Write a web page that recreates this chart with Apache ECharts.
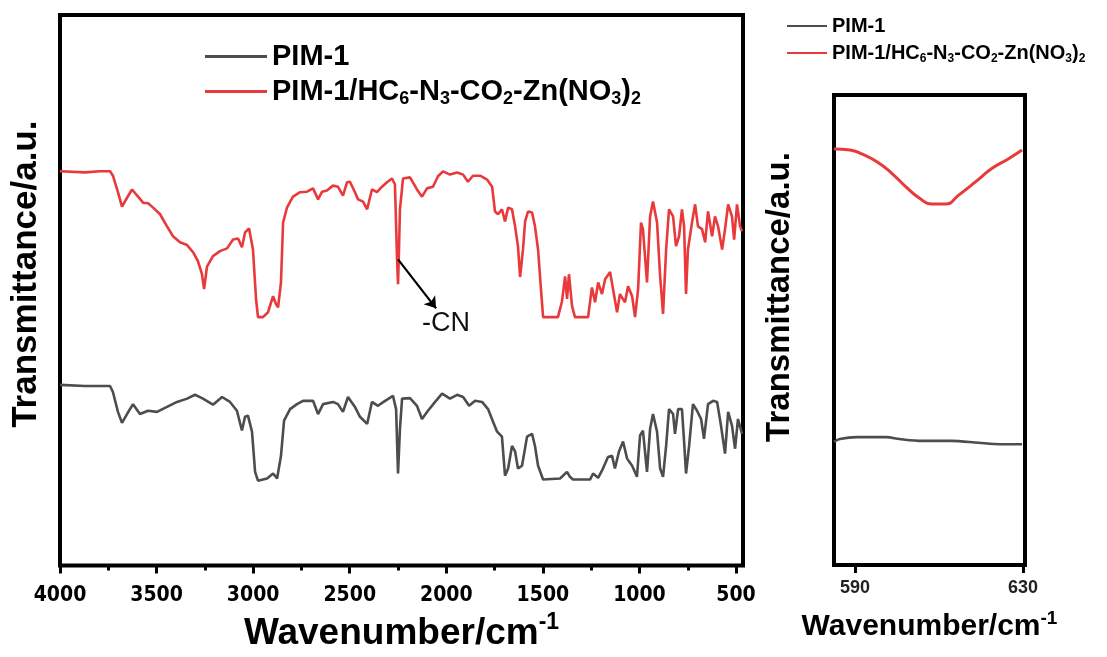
<!DOCTYPE html>
<html>
<head>
<meta charset="utf-8">
<script src="https://cdn.jsdelivr.net/npm/echarts@6/dist/echarts.min.js"></script>
<style>
  html, body { margin: 0; padding: 0; background: #fff; }
  #chart { width: 1107px; height: 657px; }
</style>
</head>
<body>
<div id="chart"></div>
<script>
// FTIR spectra: [wavenumber (cm-1), transmittance (a.u.)]
const pim1Spectrum = [
  [4000,32.8],[3871,32.6],[3741,32.6],[3726,31.5],[3700,27.9],[3679,25.9],[3653,27.5],[3622,29.3],
  [3586,27.5],[3544,28.1],[3498,27.9],[3446,28.8],[3394,29.7],[3342,30.3],[3301,31.0],[3260,30.3],
  [3208,29.2],[3161,30.6],[3120,29.7],[3084,28.1],[3058,24.5],[3042,27.0],[3027,27.2],[3006,24.3],
  [2990,17.0],[2975,15.4],[2928,15.8],[2897,16.7],[2876,15.8],[2856,19.9],[2840,26.3],[2809,28.4],
  [2773,29.3],[2742,29.9],[2690,29.9],[2664,27.5],[2638,29.3],[2587,29.7],[2561,29.3],[2535,27.9],
  [2509,30.6],[2473,28.8],[2447,27.0],[2410,25.7],[2385,29.7],[2354,29.0],[2317,29.9],[2276,30.8],
  [2260,28.4],[2250,16.7],[2240,24.8],[2229,30.3],[2188,30.4],[2152,29.0],[2126,26.6],[2095,28.1],
  [2058,29.7],[2022,31.2],[1981,30.3],[1944,31.0],[1913,30.6],[1882,29.0],[1851,29.9],[1815,29.7],
  [1784,28.4],[1758,26.1],[1737,24.3],[1712,23.4],[1696,16.3],[1680,17.6],[1660,21.7],[1644,20.7],
  [1629,17.6],[1608,18.1],[1582,23.4],[1556,23.9],[1541,21.7],[1525,18.1],[1499,15.6],[1411,15.8],
  [1375,17.0],[1360,16.1],[1344,15.6],[1256,15.6],[1240,16.7],[1214,15.9],[1189,17.6],[1163,19.7],
  [1142,19.9],[1127,17.6],[1106,20.7],[1085,22.5],[1064,19.4],[1038,18.1],[1013,16.1],[997,23.6],
  [982,24.5],[961,17.0],[945,24.8],[930,27.5],[909,24.3],[893,17.6],[878,16.1],[862,21.7],
  [847,28.4],[826,27.5],[816,23.9],[800,28.4],[780,28.4],[769,22.5],[759,16.7],[743,21.7],
  [723,29.3],[702,28.1],[681,26.6],[666,23.0],[645,29.3],[619,29.9],[598,29.7],[578,25.4],
  [557,20.3],[541,27.9],[521,25.4],[505,21.2],[490,26.6],[469,23.9]
];

const compositeSpectrum = [
  [4000,71.6],[3871,71.4],[3793,71.6],[3741,71.6],[3726,70.8],[3700,67.8],[3679,65.2],[3653,66.8],
  [3627,68.3],[3596,67.0],[3570,65.9],[3544,65.8],[3518,65.0],[3482,63.8],[3446,61.6],[3415,59.8],
  [3379,58.7],[3342,58.2],[3311,56.9],[3286,55.3],[3265,52.9],[3254,50.2],[3239,54.3],[3208,56.2],
  [3172,57.1],[3135,57.6],[3104,59.2],[3078,59.4],[3058,57.8],[3042,60.5],[3021,61.2],[3001,57.4],
  [2985,48.4],[2975,45.1],[2949,45.1],[2923,46.0],[2897,48.9],[2882,47.5],[2871,46.9],[2856,51.4],
  [2845,62.3],[2825,65.0],[2794,67.0],[2757,67.8],[2721,67.9],[2690,68.5],[2664,66.5],[2643,67.9],
  [2618,68.1],[2587,69.0],[2561,68.8],[2535,67.2],[2514,69.6],[2499,69.7],[2473,67.8],[2457,66.5],
  [2431,66.1],[2410,64.7],[2385,68.3],[2359,67.8],[2333,68.8],[2307,69.6],[2281,70.3],[2266,69.2],
  [2255,55.6],[2250,51.1],[2245,57.4],[2240,64.7],[2224,70.3],[2188,70.5],[2152,68.3],[2126,67.0],
  [2100,68.5],[2069,68.8],[2043,70.7],[2017,71.6],[1981,71.0],[1944,71.4],[1913,71.0],[1888,69.7],
  [1862,70.8],[1825,70.8],[1789,70.1],[1763,68.8],[1748,64.3],[1732,63.8],[1712,64.7],[1696,62.5],
  [1680,65.0],[1660,64.7],[1644,61.6],[1629,58.0],[1618,52.4],[1603,57.4],[1592,62.5],[1577,64.3],
  [1556,64.1],[1541,61.6],[1525,57.4],[1510,50.2],[1499,45.1],[1422,45.1],[1401,48.0],[1385,52.5],
  [1375,48.4],[1365,52.9],[1349,47.1],[1334,45.1],[1266,45.1],[1246,50.5],[1230,47.8],[1214,51.4],
  [1194,49.3],[1178,52.0],[1152,53.3],[1137,50.2],[1116,46.0],[1101,49.3],[1075,47.8],[1059,50.7],
  [1038,48.9],[1023,45.1],[1007,50.2],[992,62.3],[982,61.1],[961,51.4],[945,63.4],[930,66.1],
  [909,62.3],[893,52.5],[878,45.7],[862,57.4],[847,64.7],[826,63.4],[811,58.0],[795,59.8],
  [780,64.7],[769,61.6],[759,49.3],[749,57.4],[728,62.3],[712,65.6],[697,61.6],[676,61.1],
  [660,58.7],[645,64.3],[624,59.8],[609,63.4],[593,61.6],[572,57.4],[557,61.1],[541,65.6],
  [521,63.4],[510,59.2],[495,65.6],[479,61.6],[469,60.7]
];

// Expanded view of the 585-630 cm-1 window
const pim1Inset = [
  [585,26.2],[586.4,26.8],[590.4,27.2],[597.5,27.2],[600.6,26.8],[606.0,26.4],[613.0,26.4],
  [619.4,26.0],[624.6,25.7],[629.8,25.7]
];
const compositeInset = [
  [585,88.5],[588.8,88.3],[591.8,87.4],[595.4,85.7],[598.7,83.4],[602.2,80.4],[605.3,78.1],
  [608.3,76.8],[611.6,76.8],[614.7,78.7],[618.7,81.5],[622.5,84.3],[626.5,86.4],[629.8,88.3]
];

const mainTicks = [4000, 3500, 3000, 2500, 2000, 1500, 1000, 500];
const mainMinorTicks = [3750, 3250, 2750, 2250, 1750, 1250, 750];
const insetTicks = [590, 630];
const seriesNames = ['PIM-1', 'PIM-1/HC6-N3-CO2-Zn(NO3)2'];

const GRAY = '#4d4d4d';
const RED = '#e8393b';
const SANS = '"Liberation Sans", Arial, sans-serif';
const CONDENSED = '"DejaVu Sans Condensed", "Liberation Sans Narrow", "Liberation Sans", Arial, sans-serif';

// Legend text with chemical subscripts
function legendLabel(name) {
  if (name === seriesNames[0]) return '{m|PIM-1}';
  return '{m|PIM-1/HC}{s|6}{m|-N}{s|3}{m|-CO}{s|2}{m|-Zn(NO}{s|3}{m|)}{s|2}';
}
function legendRich(size, line) {
  const sub = Math.round(size * 0.62);
  return {
    m: { fontFamily: SANS, fontWeight: 'bold', fontSize: size, lineHeight: line, color: '#000' },
    s: { fontFamily: SANS, fontWeight: 'bold', fontSize: sub, color: '#000',
         verticalAlign: 'bottom', lineHeight: sub }
  };
}
function wavenumberName(size) {
  return {
    name: '{a|Wavenumber/cm}{b|-1}',
    rich: {
      a: { fontFamily: SANS, fontWeight: 'bold', fontSize: size, lineHeight: size * 1.2, color: '#000' },
      b: { fontFamily: SANS, fontWeight: 'bold', fontSize: Math.round(size * 0.62), color: '#000',
           verticalAlign: 'top', lineHeight: Math.round(size * 0.62) }
    }
  };
}
const plainNumber = v => String(v);

const chart = echarts.init(document.getElementById('chart'), null, { renderer: 'canvas' });
const mainName = wavenumberName(37);
const insetName = wavenumberName(30);

chart.setOption({
  backgroundColor: '#fff',
  animation: false,
  grid: [
    { left: 60, top: 15, width: 683, height: 552, show: true, borderColor: '#000', borderWidth: 4, backgroundColor: 'transparent' },
    { left: 834, top: 95, width: 191, height: 470, show: true, borderColor: '#000', borderWidth: 4, backgroundColor: 'transparent' }
  ],
  legend: [
    {
      left: 200, top: 37, orient: 'vertical', icon: 'rect', itemWidth: 62, itemHeight: 3, itemGap: 6,
      data: seriesNames, formatter: legendLabel, selectedMode: false,
      textStyle: { rich: legendRich(29, 33) }
    },
    {
      left: 782, top: 11, orient: 'vertical', icon: 'rect', itemWidth: 40, itemHeight: 2, itemGap: 7,
      data: seriesNames, formatter: legendLabel, selectedMode: false,
      textStyle: { rich: legendRich(20, 23) }
    }
  ],
  xAxis: [
    {
      gridIndex: 0, type: 'value', min: 464, max: 4000, inverse: true,
      axisLine: { show: false }, splitLine: { show: false },
      axisTick: { show: true, customValues: mainTicks, length: 8, lineStyle: { color: '#000', width: 3 } },
      axisLabel: { customValues: mainTicks, formatter: plainNumber, color: '#000', fontFamily: CONDENSED,
                   fontWeight: 'bold', fontSize: 21, margin: 20 },
      name: mainName.name, nameLocation: 'middle', nameGap: 42,
      nameTextStyle: { rich: mainName.rich }
    },
    {
      gridIndex: 0, type: 'value', min: 464, max: 4000, inverse: true, position: 'bottom',
      axisLine: { show: false }, splitLine: { show: false }, axisLabel: { show: false },
      axisTick: { show: true, customValues: mainMinorTicks, length: 5, lineStyle: { color: '#000', width: 3 } }
    },
    {
      gridIndex: 1, type: 'value', min: 585, max: 630.5,
      axisLine: { show: false }, splitLine: { show: false },
      axisTick: { show: true, customValues: insetTicks, length: 8, lineStyle: { color: '#000', width: 3 } },
      axisLabel: { customValues: insetTicks, formatter: plainNumber, color: '#222', fontFamily: SANS,
                   fontWeight: 'bold', fontSize: 18, margin: 14 },
      name: insetName.name, nameLocation: 'middle', nameGap: 44,
      nameTextStyle: { rich: insetName.rich }
    }
  ],
  yAxis: [
    {
      gridIndex: 0, type: 'value', min: 0, max: 100,
      axisLine: { show: false }, axisTick: { show: false }, axisLabel: { show: false }, splitLine: { show: false },
      name: 'Transmittance/a.u.', nameLocation: 'middle', nameGap: 16,
      nameTextStyle: { fontFamily: SANS, fontWeight: 'bold', fontSize: 35, color: '#000', padding: [0, 0, 0, 32] }
    },
    {
      gridIndex: 1, type: 'value', min: 0, max: 100,
      axisLine: { show: false }, axisTick: { show: false }, axisLabel: { show: false }, splitLine: { show: false },
      name: 'Transmittance/a.u.', nameLocation: 'middle', nameGap: 38,
      nameTextStyle: { fontFamily: SANS, fontWeight: 'bold', fontSize: 33, color: '#000', padding: [0, 0, 0, 66] }
    }
  ],
  series: [
    {
      name: seriesNames[0], type: 'line', xAxisIndex: 0, yAxisIndex: 0, data: pim1Spectrum,
      symbol: 'none', lineStyle: { color: GRAY, width: 2.6 }, itemStyle: { color: GRAY }
    },
    {
      name: seriesNames[1], type: 'line', xAxisIndex: 0, yAxisIndex: 0, data: compositeSpectrum,
      symbol: 'none', lineStyle: { color: RED, width: 2.6 }, itemStyle: { color: RED },
      markLine: {
        silent: true, symbol: ['none', 'arrow'], symbolSize: 11,
        lineStyle: { color: '#000', width: 2.2, type: 'solid' }, label: { show: false },
        data: [[{ coord: [2250, 55.6] }, { coord: [2053, 46.7] }]]
      },
      markPoint: {
        silent: true, symbol: 'rect', symbolSize: 1, itemStyle: { color: 'rgba(0,0,0,0)' },
        label: { show: true, position: 'inside', formatter: '-CN', color: '#111', fontFamily: SANS, fontSize: 27 },
        data: [{ coord: [2001, 44.0] }]
      }
    },
    {
      name: seriesNames[0], type: 'line', xAxisIndex: 2, yAxisIndex: 1, data: pim1Inset,
      symbol: 'none', smooth: 0.3, lineStyle: { color: GRAY, width: 2.6 }, itemStyle: { color: GRAY }
    },
    {
      name: seriesNames[1], type: 'line', xAxisIndex: 2, yAxisIndex: 1, data: compositeInset,
      symbol: 'none', smooth: 0.5, lineStyle: { color: RED, width: 3 }, itemStyle: { color: RED }
    }
  ]
});
</script>
</body>
</html>
